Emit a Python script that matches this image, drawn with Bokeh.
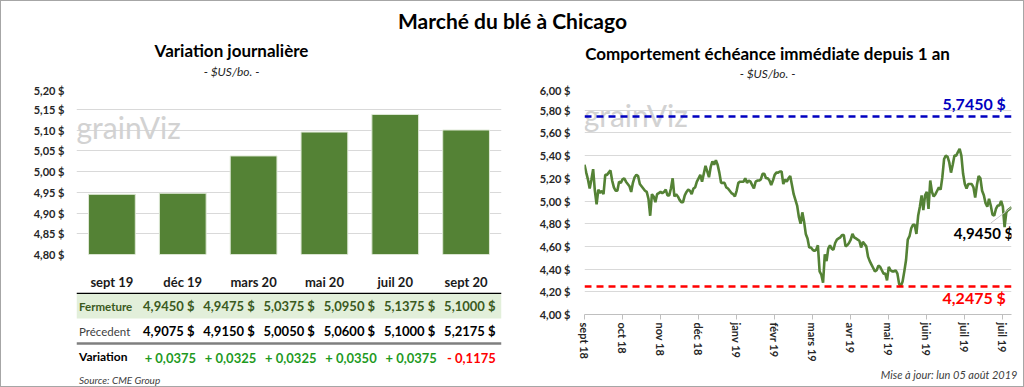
from bokeh.plotting import figure
from bokeh.layouts import column, row
from bokeh.models import (Range1d, FactorRange, FixedTicker, Span, Label, BoxAnnotation,
                          Title, CustomJSTickFormatter)
from bokeh.core.properties import value
from bokeh.embed import file_html
from bokeh.resources import INLINE

FONT = "Lato"

# ---------------- data ----------------
contracts = ["sept 19", "déc 19", "mars 20", "mai 20", "juil 20", "sept 20"]
close = [4.9450, 4.9475, 5.0375, 5.0950, 5.1375, 5.1000]
previous = [4.9075, 4.9150, 5.0050, 5.0600, 5.1000, 5.2175]
left_ticks = [4.80, 4.85, 4.90, 4.95, 5.00, 5.05, 5.10, 5.15, 5.20]

front_month = [
    5.32, 5.25, 5.19, 5.11, 5.19, 5.28, 5.09, 4.97, 5.10, 5.07,
    5.09, 5.06, 5.23, 5.23, 5.25, 5.27, 5.18, 5.12, 5.09, 5.09,
    5.17, 5.16, 5.19, 5.20, 5.17, 5.15, 5.13, 5.08, 5.16, 5.21,
    5.23, 5.22, 5.15, 5.13, 5.11, 5.09, 5.08, 5.02, 4.87, 5.06,
    5.04, 4.99, 5.06, 5.07, 5.08, 5.07, 5.08, 5.10, 5.05, 5.05,
    5.11, 5.20, 5.04, 5.06, 5.04, 5.01, 4.99, 4.99, 5.05, 5.08,
    5.10, 5.09, 5.06, 5.11,
    5.12, 5.17, 5.20, 5.23, 5.17, 5.24, 5.31, 5.26, 5.21, 5.30,
    5.35, 5.32, 5.36, 5.32, 5.25, 5.16, 5.16, 5.16, 5.12, 5.11,
    5.09, 5.07, 5.06, 5.04, 5.09, 5.16, 5.17, 5.17, 5.17, 5.20,
    5.16, 5.18, 5.17, 5.14, 5.11, 5.17, 5.18, 5.18, 5.19, 5.24,
    5.24, 5.20, 5.20, 5.18, 5.14, 5.18, 5.23, 5.25, 5.25, 5.26,
    5.26, 5.15, 5.19, 5.17, 5.20, 5.22, 5.14, 5.06, 5.01, 4.96,
    4.86, 4.80, 4.90, 4.82, 4.71, 4.67, 4.59,
    4.59, 4.57, 4.56, 4.57, 4.61, 4.38, 4.35, 4.28, 4.53, 4.47,
    4.58, 4.61, 4.58, 4.57, 4.63, 4.66, 4.67, 4.68, 4.70, 4.70,
    4.60, 4.61, 4.63, 4.66, 4.71, 4.68, 4.67, 4.66, 4.65, 4.59,
    4.64, 4.62, 4.60, 4.51, 4.47, 4.44, 4.41, 4.38, 4.39, 4.43,
    4.42, 4.39, 4.36, 4.36, 4.30, 4.42, 4.39, 4.38, 4.38, 4.39,
    4.36, 4.27, 4.25, 4.29, 4.38, 4.48, 4.66, 4.69, 4.76, 4.79,
    4.79, 4.71,
    4.87, 4.95, 5.05, 4.92, 5.05, 5.08, 4.93, 5.18, 5.08, 5.04,
    5.06, 5.09, 5.12, 5.10, 5.21, 5.37, 5.40, 5.39, 5.34, 5.25,
    5.32, 5.40, 5.40, 5.43, 5.46, 5.40, 5.24, 5.15, 5.11, 5.15,
    5.15, 5.15, 5.12, 5.03, 5.14, 5.22, 5.20, 5.09, 5.05, 4.98,
    4.95, 5.02, 4.96, 4.88, 4.87, 4.93, 4.96, 4.96, 5.00, 4.95,
    4.77, 4.90, 4.92, 4.93, 4.945,
]
month_labels = ["sept 18", "oct 18", "nov 18", "déc 18", "janv 19", "févr 19",
                "mars 19", "avr 19", "mai 19", "juin 19", "juil 19", "juil 19"]
month_tick_idx = [0, 22, 44, 66, 88, 110, 132, 154, 176, 198, 220, 242]
right_ticks = [4.00, 4.20, 4.40, 4.60, 4.80, 5.00, 5.20, 5.40, 5.60, 5.80, 6.00]
high_1y = 5.7450
low_1y = 4.2475
last_price = 4.9450


def fr(v, nd):
    return f"{v:.{nd}f}".replace(".", ",")


GREEN = "#548235"
GRID = "#d9d9d9"
TXT = "#262626"

# ---------------- title strip ----------------
W = 1022
TH = 82
T = figure(width=W, height=TH, x_range=Range1d(0, W), y_range=Range1d(TH, 0),
           toolbar_location=None, output_backend="svg", min_border=0,
           x_axis_location=None, y_axis_location=None)
T.grid.visible = False
T.outline_line_color = None
T.text(x=[511], y=[19], text=["Marché du blé à Chicago"], text_font=value(FONT),
       text_font_style="bold", text_font_size="21px", text_align="center",
       text_baseline="middle", text_color="#000000")
T.text(x=[230, 766], y=[49, 52], text=["Variation journalière",
                                        "Comportement échéance immédiate depuis 1 an"],
       text_font=value(FONT), text_font_style="bold", text_font_size="17px",
       text_align="center", text_baseline="middle", text_color="#000000")
T.text(x=[230, 766], y=[70, 72], text=["- $US/bo. -", "- $US/bo. -"],
       text_font=value(FONT), text_font_style="italic", text_font_size="12px",
       text_align="center", text_baseline="middle", text_color="#262626")

# ---------------- left bar chart ----------------
LW, LH = 515, 209
ML, MR = 75, 15
L = figure(width=LW, height=LH, x_range=FactorRange(*contracts), y_range=Range1d(4.80, 5.20),
           toolbar_location=None, output_backend="svg",
           min_border_left=ML, min_border_right=MR, min_border_top=5, min_border_bottom=27)
L.vbar(x=contracts, top=close, bottom=0, width=0.66, fill_color=GREEN,
       line_color="#dfe9d6", line_width=1)
L.xgrid.visible = False
L.ygrid.grid_line_color = GRID
L.outline_line_color = None
L.yaxis.ticker = FixedTicker(ticks=left_ticks)
L.yaxis.formatter = CustomJSTickFormatter(code="return tick.toFixed(2).replace('.', ',') + ' $';")
L.yaxis.axis_line_color = None
L.yaxis.major_tick_line_color = None
L.yaxis.minor_tick_line_color = None
L.yaxis.major_label_text_font = FONT
L.yaxis.major_label_text_font_style = "bold"
L.yaxis.major_label_text_font_size = "11px"
L.yaxis.major_label_text_color = TXT
L.yaxis.major_label_standoff = 6
L.xaxis.axis_line_color = None
L.xaxis.major_tick_line_color = None
L.xaxis.major_label_text_font = FONT
L.xaxis.major_label_text_font_style = "bold"
L.xaxis.major_label_text_font_size = "13px"
L.xaxis.major_label_text_color = "#1a1a1a"
L.xaxis.major_label_standoff = 13
L.add_layout(Label(x=0.0, y=5.108, text="grainViz", text_font=FONT, text_font_size="30px",
                   text_color="#d2d2d2", text_baseline="middle"))

# ---------------- left table ----------------
TBH = 94
unit = (LW - ML - MR) / 6
x0 = -ML / unit
TB = figure(width=LW, height=TBH, x_range=Range1d(x0, 6), y_range=Range1d(TBH, 0),
            toolbar_location=None, output_backend="svg",
            min_border_left=0, min_border_right=MR, min_border_top=0, min_border_bottom=0,
            x_axis_location=None, y_axis_location=None)
TB.grid.visible = False
TB.outline_line_color = None
TB.add_layout(BoxAnnotation(top=1, bottom=26, fill_color="#e2efda", fill_alpha=1,
                            line_color=None, level="underlay"))
TB.add_layout(Span(location=0.8, dimension="width", line_color="#000000", line_width=1.5))
TB.add_layout(Span(location=51, dimension="width", line_color="#7f7f7f", line_width=2.5))
centers = [i + 0.5 for i in range(len(contracts))]
TB.text(x=centers, y=[13.5] * 6, text=[fr(v, 4) + "  $" for v in close],
        text_font=value(FONT), text_font_style="bold", text_font_size="13px",
        text_align="center", text_baseline="middle", text_color="#3b5a1e")
TB.text(x=centers, y=[38.5] * 6, text=[fr(v, 4) + "  $" for v in previous],
        text_font=value(FONT), text_font_style="bold", text_font_size="13px",
        text_align="center", text_baseline="middle", text_color="#000000")
var = [c - p for c, p in zip(close, previous)]
TB.text(x=centers, y=[65] * 6,
        text=[("+ " if d >= 0 else "- ") + fr(abs(d), 4) for d in var],
        text_font=value(FONT), text_font_style="bold", text_font_size="13px",
        text_align="center", text_baseline="middle",
        text_color=["#1f9a1f" if d >= 0 else "#ff0000" for d in var])
lx = x0 + 3 / unit
TB.text(x=[lx], y=[13.5], text=["Fermeture"], text_font=value(FONT), text_font_size="11.5px",
        text_font_style="bold", text_baseline="middle", text_color="#3b5a1e")
TB.text(x=[lx], y=[38.5], text=["Précedent"], text_font=value(FONT), text_font_size="11.5px",
        text_baseline="middle", text_color="#404040")
TB.text(x=[lx], y=[64], text=["Variation"], text_font=value(FONT), text_font_size="12px",
        text_font_style="bold", text_baseline="middle", text_color="#000000")
TB.text(x=[lx], y=[87], text=["Source: CME Group"], text_font=value(FONT),
        text_font_size="10px", text_font_style="italic", text_baseline="middle",
        text_color="#404040")

# ---------------- right line chart ----------------
RW, RH = W - LW, LH + TBH
n = len(front_month)
R = figure(width=RW, height=RH, x_range=Range1d(0, n - 1), y_range=Range1d(4.0, 6.0),
           toolbar_location=None, output_backend="svg",
           min_border_left=68, min_border_right=12, min_border_top=4, min_border_bottom=72)
R.xgrid.visible = False
R.ygrid.grid_line_color = GRID
R.outline_line_color = None
R.yaxis.ticker = FixedTicker(ticks=right_ticks)
R.yaxis.formatter = CustomJSTickFormatter(code="return tick.toFixed(2).replace('.', ',') + ' $';")
R.yaxis.axis_line_color = None
R.yaxis.major_tick_line_color = None
R.yaxis.minor_tick_line_color = None
R.yaxis.major_label_text_font = FONT
R.yaxis.major_label_text_font_style = "bold"
R.yaxis.major_label_text_font_size = "11px"
R.yaxis.major_label_text_color = TXT
R.yaxis.major_label_standoff = 8
R.xaxis.ticker = FixedTicker(ticks=month_tick_idx)
R.xaxis.major_label_overrides = {i: lab for i, lab in zip(month_tick_idx, month_labels)}
R.xaxis.major_label_orientation = "vertical"
R.xaxis.axis_line_color = "#bfbfbf"
R.xaxis.major_tick_line_color = "#bfbfbf"
R.xaxis.major_tick_out = 5
R.xaxis.major_tick_in = 0
R.xaxis.minor_tick_line_color = None
R.xaxis.major_label_text_font = FONT
R.xaxis.major_label_text_font_style = "bold"
R.xaxis.major_label_text_font_size = "11px"
R.xaxis.major_label_text_color = TXT
R.xaxis.major_label_standoff = 3

R.add_layout(Label(x=-0.5, y=5.755, text="grainViz", text_font=FONT, text_font_size="30px",
                   text_color="#d2d2d2", text_baseline="middle"))
R.add_layout(Span(location=high_1y, dimension="width", line_color="#0000c0",
                  line_width=2.5, line_dash="7 5"))
R.add_layout(Span(location=low_1y, dimension="width", line_color="#ff0000",
                  line_width=2.5, line_dash="7 5"))
R.line(x=list(range(n)), y=front_month, line_color=GREEN, line_width=2.6)
R.segment(x0=[n - 1], y0=[last_price], x1=[n - 13], y1=[last_price - 0.14],
          line_color="#c8c8c8", line_width=1)
R.text(x=[n - 2], y=[high_1y + 0.115], text=[fr(high_1y, 4) + "  $"], text_font=value(FONT),
       text_font_style="bold", text_font_size="16px", text_align="right",
       text_baseline="middle", text_color="#0000c0")
R.text(x=[n - 2], y=[low_1y - 0.1], text=[fr(low_1y, 4) + "  $"], text_font=value(FONT),
       text_font_style="bold", text_font_size="16px", text_align="right",
       text_baseline="middle", text_color="#ff0000")
R.text(x=[n], y=[last_price - 0.23], text=[fr(last_price, 4) + " $"],
       text_font=value(FONT), text_font_style="bold", text_font_size="15px",
       text_align="right", text_baseline="middle", text_color="#000000")
R.add_layout(Title(text="Mise à jour: lun 05 août 2019", align="right", text_font=FONT,
                   text_font_style="italic", text_font_size="11px", text_color="#404040",
                   standoff=2, offset=-6),
             "below")

layout = column(T, row(column(L, TB), R), styles={"border": "1px solid #a6a6a6"})

with open("out.html", "w") as f:
    f.write(file_html(layout, INLINE))
